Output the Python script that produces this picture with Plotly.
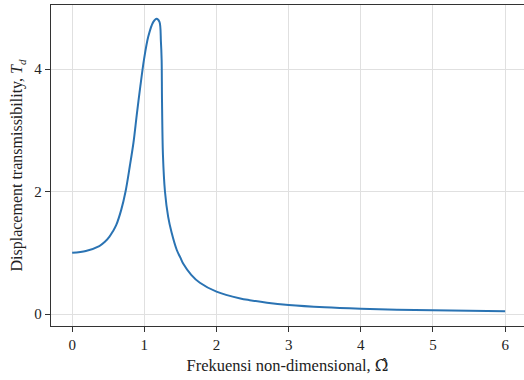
import plotly.graph_objects as go

# Frequency (non-dimensional) and displacement transmissibility
omega = [0.0, 0.19, 0.376, 0.45, 0.515, 0.565, 0.61, 0.68, 0.74, 0.80, 0.85, 0.894, 0.945,
         0.995, 1.055, 1.125, 1.17, 1.21, 1.23, 1.24, 1.245, 1.258, 1.286, 1.33,
         1.378, 1.45, 1.5, 1.54, 1.65, 1.77, 2.0, 2.33, 2.46, 2.7, 3.0, 3.5, 4.0, 4.5,
         5.0, 5.5, 6.0]
td = [1.0, 1.03, 1.11, 1.175, 1.26, 1.35, 1.45, 1.70, 2.0, 2.42, 2.80, 3.24, 3.72,
      4.15, 4.53, 4.77, 4.82, 4.77, 4.45, 4.15, 3.5, 2.6, 2.0, 1.59,
      1.33, 1.045, 0.92, 0.82, 0.64, 0.51, 0.365, 0.254, 0.226, 0.184, 0.147, 0.11, 0.087, 0.071,
      0.06, 0.051, 0.044]

x_ticks = [0, 1, 2, 3, 4, 5, 6]
y_ticks = [0, 2, 4]

font_family = "Liberation Serif"

fig = go.Figure()
fig.add_trace(go.Scatter(
    x=omega, y=td, mode="lines",
    line=dict(color="#2a73b3", width=2, shape="spline", smoothing=0.9),
    showlegend=False,
))

axis_common = dict(
    showgrid=True, gridcolor="#e0e0e0", gridwidth=1,
    showline=True, linecolor="#333333", linewidth=1.3,
    ticks="outside", ticklen=5, tickwidth=1, tickcolor="#333333",
    zeroline=False,
    tickfont=dict(family=font_family, size=15, color="#222222"),
)

fig.update_layout(
    width=524, height=380,
    margin=dict(l=51, r=0, t=5, b=54),
    paper_bgcolor="white", plot_bgcolor="white",
    font=dict(family=font_family, color="#222222"),
    xaxis=dict(
        range=[-0.293, 6.261], tickvals=x_ticks, mirror=True,
        title=dict(text="Frekuensi non-dimensional, "
                        "<span style=\"font-family:'DejaVu Serif'\">\u03a9\u0302</span>",
                   font=dict(family=font_family, size=16.5, color="#222222"),
                   standoff=7),
        **axis_common,
    ),
    yaxis=dict(
        range=[-0.196, 5.045], tickvals=y_ticks,
        title=dict(text="Displacement transmissibility, <i>T<sub>d</sub></i>",
                   font=dict(family=font_family, size=16, color="#222222"),
                   standoff=7),
        **axis_common,
    ),
)

fig.write_html("out.html")
